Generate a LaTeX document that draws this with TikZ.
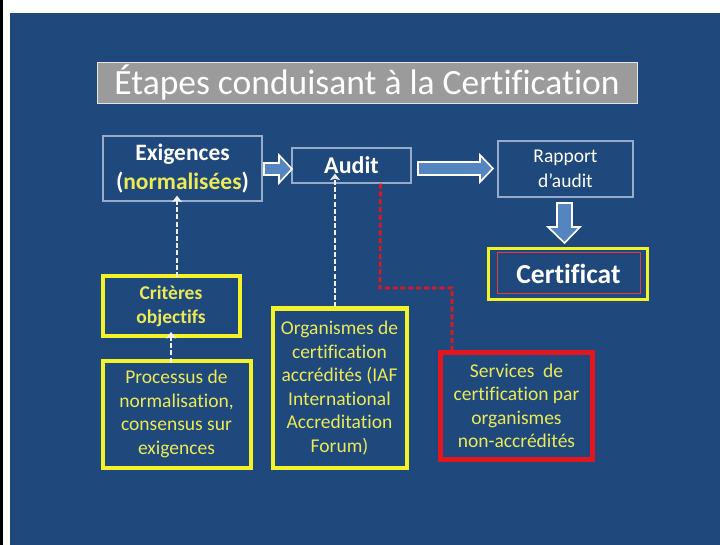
\documentclass[tikz,border=0pt]{standalone}
\usepackage{fontspec}
\setmainfont{Carlito}[Ligatures=NoCommon]
\usetikzlibrary{arrows.meta,calc}
\definecolor{bgblue}{RGB}{31,72,124}
\definecolor{titlegray}{RGB}{155,155,155}
\definecolor{thinborder}{RGB}{150,172,202}
\definecolor{arrowfill}{RGB}{84,133,192}
\definecolor{ybox}{RGB}{244,242,40}
\definecolor{ytext}{RGB}{236,234,88}
\definecolor{rbox}{RGB}{226,22,30}
\tikzset{
  thinbox/.style={draw=thinborder, line width=1.3pt, inner sep=0pt, align=center, text=white},
  ybox/.style={draw=ybox, line width=4pt, inner sep=0pt, align=center, text=ytext},
  rbox/.style={draw=rbox, line width=4.2pt, inner sep=0pt, align=center, text=ytext},
  blockarrow/.style={fill=arrowfill, draw=white, line width=1.6pt, line join=miter},
  dasharrow/.style={draw=white!94!black, line width=2.8pt, dash pattern=on 5pt off 2.2pt, -{Stealth[length=6.5pt,width=10pt,inset=1.5pt]}},
  reddash/.style={draw=rbox, line width=2.6pt, dash pattern=on 5pt off 2.8pt}
}
\begin{document}
\begin{tikzpicture}[x=1pt,y=-1pt]
\useasboundingbox (0,0) rectangle (720,545);
\fill[white] (0,0) rectangle (720,545);
\fill[black] (0,0) rectangle (2.5,545);
\fill[bgblue] (10,13) rectangle (720,545);
% title
\node[fill=titlegray, draw=white!80!gray, line width=0.8pt, minimum width=540pt, minimum height=41pt, inner sep=0pt, text=white, font=\fontsize{35.5}{40}\selectfont] (title) at (367,83) {Étapes conduisant à la Certification};
% top row
\node[thinbox, minimum width=159pt, minimum height=65pt, font=\bfseries\fontsize{23.5}{29}\selectfont] (exig) at (182.5,168.5) {Exigences\\(\textcolor{ytext}{normalisées})};
\node[thinbox, minimum width=119pt, minimum height=35pt, font=\bfseries\fontsize{24}{28}\selectfont] (audit) at (351.5,165.5) {Audit};
\node[thinbox, minimum width=135pt, minimum height=56pt, font=\fontsize{19.5}{25}\selectfont] (rapport) at (565.5,169) {Rapport\\d’audit};
\node[draw=ybox, line width=2.8pt, minimum width=159pt, minimum height=51pt, inner sep=0pt] (certif) at (568,274) {};
\node[draw=rbox!85!white, line width=1pt, minimum width=143pt, minimum height=41pt, inner sep=0pt, text=white, font=\bfseries\fontsize{27.5}{32}\selectfont] (certin) at (568.5,273.5) {Certificat};
% block arrows
\filldraw[blockarrow] (264,163) -- (279,163) -- (279,155) -- (292,169) -- (279,183) -- (279,175) -- (264,175) -- cycle;
\filldraw[blockarrow] (418,162) -- (480,162) -- (480,155) -- (493,168.5) -- (480,182) -- (480,175) -- (418,175) -- cycle;
\filldraw[blockarrow] (557,203) -- (572,203) -- (572,227) -- (580,227) -- (564.5,243) -- (548,227) -- (557,227) -- cycle;
% lower boxes
\node[ybox, minimum width=137pt, minimum height=60pt, font=\bfseries\fontsize{19.5}{24}\selectfont] (crit) at (171,306) {Critères\\objectifs};
\node[ybox, minimum width=148pt, minimum height=107pt, font=\fontsize{19.5}{23.5}\selectfont] (proc) at (176.5,414) {Processus de\\normalisation,\\consensus sur\\exigences};
\node[ybox, minimum width=134pt, minimum height=159pt, font=\fontsize{19.5}{23.5}\selectfont] (org) at (339.5,388) {Organismes de\\certification\\accrédités (IAF\\International\\Accreditation\\Forum)};
\node[rbox, minimum width=152pt, minimum height=107pt, font=\fontsize{19.5}{23.5}\selectfont] (serv) at (516.5,406) {Services~~de\\certification par\\organismes\\non-accrédités};
% dashed connectors
\draw[dasharrow] ([xshift=6pt,yshift=-3pt]crit.north) -- ([xshift=-5.5pt,yshift=6pt]exig.south);
\draw[dasharrow] ([yshift=-4pt]proc.north -| crit.south) -- ([yshift=6pt]crit.south);
\draw[dasharrow] ([xshift=-4.5pt,yshift=-1pt]org.north) -- ([xshift=-16.5pt,yshift=10pt]audit.south);
\coordinate (r1) at ([xshift=29pt]audit.south);
\coordinate (r2) at (380,288);
\coordinate (r3) at (452,288);
\draw[reddash] (r1) -- (r2) -- (r3) -- (r3 |- serv.north);
\end{tikzpicture}
\end{document}
